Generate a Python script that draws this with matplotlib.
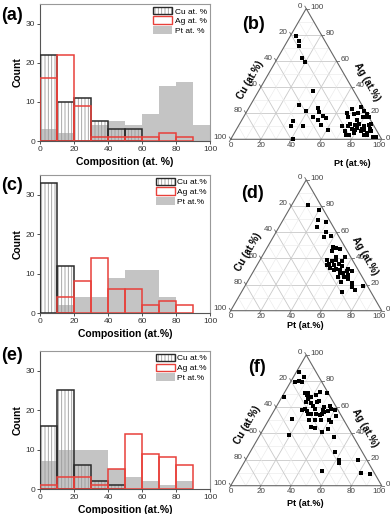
import numpy as np
import matplotlib
matplotlib.use('Agg')
import matplotlib.pyplot as plt
from matplotlib.patches import Patch

plt.rcParams['font.family'] = ['Liberation Sans', 'DejaVu Sans']
plt.rcParams['hatch.linewidth'] = 0.6

# ---------------- data ----------------
bin_edges = [0, 10, 20, 30, 40, 50, 60, 70, 80, 90, 100]

a_cu = [22, 10, 11, 5, 3, 3, 0, 0, 0, 0]
a_ag = [16, 22, 9, 1, 1, 1, 1, 2, 1, 0]
a_pt = [3, 2, 0, 4, 5, 4, 7, 14, 15, 4]

c_cu = [33, 12, 0, 0, 0, 0, 0, 0, 0, 0]
c_ag = [0, 4, 8, 14, 6, 6, 2, 3, 2, 0]
c_pt = [0, 2, 4, 4, 9, 11, 11, 4, 0, 0]

e_cu = [16, 25, 6, 2, 1, 0, 0, 0, 0, 0]
e_ag = [1, 3, 3, 1, 5, 14, 9, 8, 6, 0]
e_pt = [7, 10, 10, 10, 5, 3, 2, 1, 2, 0]

b_pt = [4, 8, 10, 16, 20, 36, 32, 39, 34, 35, 43, 46, 48, 46, 50, 52, 55, 54, 61, 41,
        67, 69, 69, 72, 74, 74, 77, 76, 81, 81, 69, 73, 73, 73, 77, 79, 79, 83, 85, 88,
        86, 88, 90, 89, 87, 75, 83, 83, 79, 87, 93, 95, 79, 76, 77, 83, 79]
b_ag = [79, 75, 71, 62, 59, 37, 26, 22, 14, 10, 10, 24, 21, 17, 15, 18, 16, 11, 7, 0,
        20, 23, 17, 19, 20, 25, 22, 15, 17, 19, 10, 6, 10, 12, 11, 9, 12, 10, 7, 5,
        11, 8, 6, 3, 3, 3, 6, 8, 7, 12, 2, 2, 17, 8, 3, 17, 5]

d_pt = [11, 20, 23, 29, 25, 33, 34, 38, 43, 44, 46, 49, 49, 44, 47, 46, 48, 50, 51, 54,
        57, 54, 57, 55, 55, 62, 65, 53, 49, 60, 64, 66, 62, 58, 62, 70, 71, 78, 74, 67,
        62, 58]
d_ag = [81, 77, 69, 68, 64, 60, 56, 57, 49, 46, 48, 47, 41, 39, 36, 35, 38, 39, 35, 36,
        34, 32, 31, 38, 41, 32, 30, 31, 33, 29, 27, 24, 22, 26, 26, 21, 18, 19, 16, 14,
        30, 29]

f_pt = [2, 7, 3, 5, 8, 1, 14, 16, 16, 19, 22, 23, 28, 25, 26, 18, 22, 24, 20, 18,
        26, 32, 32, 35, 37, 22, 24, 26, 29, 32, 33, 34, 36, 43, 40, 15, 27, 31, 35, 40,
        42, 31, 34, 40, 43, 19, 50, 56, 62, 63, 74, 55, 81, 88, 18]
f_ag = [87, 83, 79, 80, 79, 68, 71, 69, 71, 68, 69, 72, 71, 64, 65, 64, 63, 61, 59, 58,
        59, 58, 60, 61, 59, 57, 55, 55, 55, 54, 55, 56, 57, 53, 58, 51, 50, 50, 50, 50,
        49, 45, 44, 41, 43, 39, 37, 26, 20, 17, 20, 11, 10, 9, 66]

hist_x_ticks = [0, 20, 40, 60, 80, 100]
hist_y_ticks = [0, 10, 20, 30]
tern_ticks = [0, 20, 40, 60, 80, 100]

# ---------------- figure ----------------
W, H = 390, 514
fig = plt.figure(figsize=(W / 100, H / 100), dpi=100)

GRAY = '#c4c4c4'
RED = '#e8403a'
DARK = '#2a2a2a'
HATCH = '|||||'


def hist_panel(top_px, bot_px, cu, ag, pt, leg_labels, xlabel):
    ax = fig.add_axes([40 / W, 1 - bot_px / H, 170 / W, (bot_px - top_px) / H])
    lefts = np.array(bin_edges[:-1])
    width = np.diff(bin_edges)
    cu = np.array(cu); ag = np.array(ag); pt = np.array(pt)
    m = pt > 0
    ax.bar(lefts[m], pt[m], width=width[m], align='edge', color=GRAY, lw=0, zorder=1)
    m = cu > 0
    ax.bar(lefts[m], cu[m], width=width[m], align='edge', facecolor='none',
           edgecolor='#9a9a9a', hatch=HATCH, lw=0, zorder=2)
    ax.bar(lefts[m], cu[m], width=width[m], align='edge', facecolor='none',
           edgecolor=DARK, lw=1.1, zorder=3)
    m = ag > 0
    ax.bar(lefts[m], ag[m], width=width[m], align='edge', facecolor='none',
           edgecolor=RED, lw=1.1, zorder=4)
    ax.set_xlim(0, 100)
    ax.set_ylim(0, 35)
    ax.set_xticks(hist_x_ticks)
    ax.set_yticks(hist_y_ticks)
    ax.tick_params(labelsize=6, length=2, width=0.6, colors='#333333', pad=1.5)
    for s in ['left', 'bottom']:
        ax.spines[s].set_color('#555555'); ax.spines[s].set_linewidth(0.8)
    for s in ['right', 'top']:
        ax.spines[s].set_color('#999999'); ax.spines[s].set_linewidth(0.8)
    ax.set_ylabel('Count', fontsize=7.5, fontweight='bold', labelpad=2)
    ax.set_xlabel(xlabel, fontsize=7.5, fontweight='bold', labelpad=3)
    handles = [
        (Patch(facecolor='white', edgecolor='#9a9a9a', hatch=HATCH, lw=0),
         Patch(facecolor='none', edgecolor=DARK, lw=1.0)),
        Patch(facecolor='white', edgecolor=RED, lw=1.0),
        Patch(facecolor=GRAY, edgecolor='none', lw=0),
    ]
    ax.legend(handles, leg_labels, loc='upper right', frameon=False, fontsize=6,
              handlelength=2.3, handleheight=1.0, borderaxespad=0.15,
              labelspacing=0.12, handletextpad=0.3, borderpad=0.2)
    return ax


hist_panel(4, 141, a_cu, a_ag, a_pt, ['Cu at. %', 'Ag at. %', 'Pt at. %'],
           'Composition (at. %)')
hist_panel(175, 313, c_cu, c_ag, c_pt, ['Cu at.%', 'Ag at.%', 'Pt at.%'],
           'Composition (at.%)')
hist_panel(351, 489, e_cu, e_ag, e_pt, ['Cu at.%', 'Ag at.%', 'Pt at.%'],
           'Composition (at.%)')

HT = np.sqrt(3) / 2


def to_xy(pt, ag):
    pt = np.asarray(pt, float); ag = np.asarray(ag, float)
    return pt + ag * 0.5, ag * HT


def tern_panel(box, bl, side_px, pt, ag, cu_lab, ag_lab, pt_lab):
    x0, y0, x1, y1 = box
    k = side_px / 100.0
    ax = fig.add_axes([x0 / W, 1 - y1 / H, (x1 - x0) / W, (y1 - y0) / H])
    ax.set_xlim((x0 - bl[0]) / k, (x1 - bl[0]) / k)
    ax.set_ylim((bl[1] - y1) / k, (bl[1] - y0) / k)
    ax.axis('off')
    ax.patch.set_alpha(0)
    # grid
    for v in range(10, 100, 10):
        col = '#c9c9c9' if v % 20 == 0 else '#e8e8e8'
        lw = 0.6 if v % 20 == 0 else 0.4
        for (p0, a0, p1, a1) in [(v, 0, v, 100 - v), (0, v, 100 - v, v),
                                 (100 - v, 0, 0, 100 - v)]:
            xa, ya = to_xy([p0, p1], [a0, a1])
            ax.plot(xa, ya, color=col, lw=lw, zorder=1)
    # edges
    xa, ya = to_xy([0, 100, 0, 0], [0, 0, 100, 0])
    ax.plot(xa, ya, color='#666666', lw=0.8, zorder=2, solid_joinstyle='miter')
    # ticks + labels
    tl = 1.8
    for v in tern_ticks:
        bx, by = to_xy(v, 0)
        ax.plot([bx, bx - 0.5 * tl], [by, by - HT * tl], color='#666666', lw=0.6)
        ax.text(bx - (1.5 if v == 100 else 0), by - 3.8, str(v), fontsize=5.8,
                color='#444444', ha='center', va='center')
        lx, ly = to_xy(0, 100 - v)
        ax.plot([lx, lx - 0.5 * tl], [ly, ly + HT * tl], color='#666666', lw=0.6)
        ax.text(lx - 2.5, ly + 1.5, str(v), fontsize=5.8, color='#444444', ha='right', va='center')
        rx, ry = to_xy(100 - v, v)
        ax.plot([rx, rx + tl], [ry, ry], color='#666666', lw=0.6)
        ax.text(rx + 2.8, ry + 0.8, str(v), fontsize=5.8, color='#444444', ha='left', va='center')
    # points
    px, py = to_xy(pt, ag)
    ax.scatter(px, py, marker='s', s=5, color='black', lw=0, zorder=5, clip_on=False)
    # axis titles
    ax.text(*cu_lab, 'Cu (at.%)', fontsize=7, fontweight='bold', rotation=60,
            ha='center', va='center')
    ax.text(*ag_lab, 'Ag (at.%)', fontsize=7, fontweight='bold', rotation=-60,
            ha='center', va='center')
    ax.text(*pt_lab, 'Pt (at.%)', fontsize=6.5, fontweight='bold', ha='center', va='center')
    return ax


tern_panel((200, 0, 390, 170), (230.7, 139.3), 151, b_pt, b_ag,
           (12.8, 39.3), (90.3, 37.9), (80.3, -15.7))
tern_panel((200, 170, 390, 340), (230.7, 310.7), 151, d_pt, d_ag,
           (11.4, 38.7), (88.9, 36.4), (49.2, -10.0))
tern_panel((200, 340, 390, 514), (230.7, 485.7), 151, f_pt, f_ag,
           (10.7, 40.2), (88.9, 38.5), (49.2, -12.0))

# panel labels
for lab, (x, y) in {'(a)': (1, 16), '(b)': (242, 24), '(c)': (1, 186),
                    '(d)': (241, 193), '(e)': (1, 356), '(f)': (248, 367)}.items():
    fig.text(x / W, 1 - y / H, lab, fontsize=13, fontweight='bold',
             ha='left', va='center')

fig.savefig('out.png', dpi=100)
